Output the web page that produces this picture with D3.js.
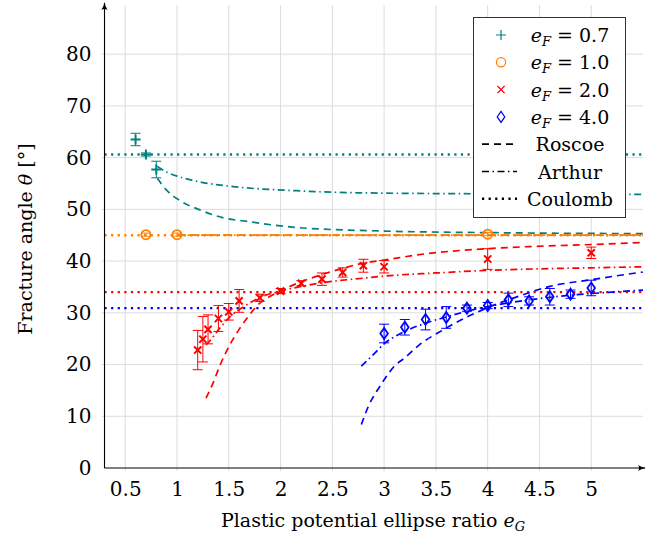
<!DOCTYPE html>
<html>
<head>
<meta charset="utf-8">
<title>Fracture angle</title>
<script src="https://d3js.org/d3.v7.min.js"></script>
<style>
  body { margin: 0; background: #fff; }
  svg text { font-family: "DejaVu Serif", serif; fill: #000; }
</style>
</head>
<body>
<svg width="653" height="534"></svg>
<script>
// ---- data ----
var xTicks = [0.5, 1, 1.5, 2, 2.5, 3, 3.5, 4, 4.5, 5];
var yTicks = [0, 10, 20, 30, 40, 50, 60, 70, 80];

var seriesNames = ["0.7", "1.0", "2.0", "4.0"];
var seriesColors = ["#008080", "#ff8000", "#ff0000", "#0000ff"];
var seriesMarkers = ["plus", "circle", "cross", "diamond"];

// measured points [eG, theta, error]
var pts07 = [[0.6, 63.5, 1.2], [0.7, 60.6, 0.3], [0.8, 57.7, 1.6]];
var pts10 = [[0.7, 45.1, 0.3], [1.0, 45.1, 0.3], [4.0, 45.2, 0.3]];
var pts20 = [[1.2, 22.8, 3.8], [1.25, 24.9, 4.4], [1.3, 26.8, 2.8], [1.4, 28.9, 2.5],
             [1.5, 30.2, 1.6], [1.6, 32.3, 2.2], [1.8, 32.9, 0.7], [2.0, 34.2, 0.5],
             [2.2, 35.7, 0.5], [2.4, 36.5, 1.2], [2.6, 37.8, 0.9], [2.8, 39.1, 1.25],
             [3.0, 38.9, 1.2], [4.0, 40.4, 2.0], [5.0, 41.6, 1.1]];
var pts40 = [[3.0, 26.0, 1.8], [3.2, 27.2, 1.5], [3.4, 28.7, 2.0], [3.6, 29.1, 2.1],
             [3.8, 30.9, 0.6], [4.0, 31.4, 0.6], [4.2, 32.5, 1.3], [4.4, 32.3, 0.8],
             [4.6, 33.1, 1.6], [4.8, 33.6, 0.8], [5.0, 34.8, 1.5]];

// Roscoe (dashed) curves [eG, theta]
var roscoe07 = [[0.81, 56.0], [0.9, 53.7], [1.02, 51.8], [1.22, 49.9], [1.44, 48.4], [1.7, 47.6],
                [2.15, 46.5], [3.0, 45.8], [4.0, 45.5], [5.5, 45.3]];
var roscoe10 = [[1.0, 45.0], [5.5, 45.0]];
var roscoe20 = [[1.28, 13.5], [1.35, 16.5], [1.41, 19.6], [1.51, 23.8], [1.6, 26.8], [1.67, 28.8],
                [1.78, 31.5], [1.9, 33.2], [2.0, 34.3], [2.2, 36.0], [2.4, 37.4], [2.6, 38.6],
                [2.8, 39.6], [3.0, 40.2], [3.4, 41.4], [4.0, 42.4], [4.4, 42.8], [5.0, 43.2], [5.5, 43.6]];
var roscoe40 = [[2.78, 8.4], [2.85, 12.0], [2.96, 15.8], [3.1, 19.7], [3.2, 21.3], [3.34, 23.8],
                [3.57, 26.7], [3.8, 29.2], [4.0, 31.0], [4.3, 33.2], [4.6, 35.1], [5.0, 36.4], [5.5, 37.9]];

// Arthur (dash-dot) curves
var arthur07 = [[0.81, 58.3], [0.9, 57.2], [1.02, 56.3], [1.22, 55.3], [1.54, 54.4], [2.15, 53.6],
                [2.75, 53.2], [4.0, 53.0], [5.5, 52.9]];
var arthur10 = [[1.0, 45.0], [5.5, 45.0]];
var arthur20 = [[1.28, 23.8], [1.31, 24.4], [1.4, 26.7], [1.51, 29.2], [1.67, 31.5], [1.83, 33.2],
                [2.0, 34.2], [2.2, 35.1], [2.4, 35.8], [2.8, 36.7], [3.0, 37.1], [3.5, 37.7],
                [4.0, 38.2], [4.5, 38.5], [5.0, 38.7], [5.5, 38.9]];
var arthur40 = [[2.78, 19.7], [2.9, 22.0], [3.0, 24.0], [3.2, 26.4], [3.4, 28.0], [3.6, 29.2],
                [3.8, 30.3], [4.0, 31.2], [4.4, 32.5], [4.8, 33.4], [5.2, 34.0], [5.5, 34.4]];

// Coulomb (dotted) constant angles
var coulomb = [60.6, 45.0, 34.0, 30.9];

var points = [pts07, pts10, pts20, pts40];
var roscoe = [roscoe07, roscoe10, roscoe20, roscoe40];
var arthur = [arthur07, arthur10, arthur20, arthur40];

var lineNames = ["Roscoe", "Arthur", "Coulomb"];
var dashes = ["7,5", "7,3.5,1.5,3.5", "2.2,4.4"];

// ---- drawing ----
var svg = d3.select("svg");
var xMin = 0.3, xMax = 5.5, yMax = 89.5;
var x = d3.scaleLinear().domain([xMin, xMax]).range([104.5, 643]);
var y = d3.scaleLinear().domain([0, yMax]).range([468, 5]);

svg.append("defs").append("clipPath").attr("id", "clip")
  .append("rect").attr("x", x(xMin)).attr("y", y(yMax))
  .attr("width", x(xMax) - x(xMin)).attr("height", y(0) - y(yMax));

// grid
var grid = svg.append("g");
grid.selectAll(".gx").data(xTicks).enter().append("line")
  .attr("x1", function(d) { return x(d); }).attr("x2", function(d) { return x(d); })
  .attr("y1", y(0) + 3).attr("y2", y(yMax))
  .attr("stroke", "#dcdcdc").attr("stroke-width", 1);
grid.selectAll(".gy").data(yTicks.slice(1)).enter().append("line")
  .attr("x1", x(xMin) - 3).attr("x2", x(xMax))
  .attr("y1", function(d) { return y(d); }).attr("y2", function(d) { return y(d); })
  .attr("stroke", "#dcdcdc").attr("stroke-width", 1);

// tick labels via axes (no tick lines)
var xAxis = svg.append("g").attr("transform", "translate(0," + y(0) + ")")
  .call(d3.axisBottom(x).tickValues(xTicks).tickSize(0).tickPadding(14)
    .tickFormat(function(d) { return String(d); }));
xAxis.select(".domain").remove();
xAxis.attr("font-family", null).attr("font-size", 20);
xAxis.selectAll("text").attr("font-size", 20);

var yAxis = svg.append("g").attr("transform", "translate(" + x(xMin) + ",0)")
  .call(d3.axisLeft(y).tickValues(yTicks).tickSize(0).tickPadding(13));
yAxis.select(".domain").remove();
yAxis.attr("font-family", null).attr("font-size", 20);
yAxis.selectAll("text").attr("font-size", 20);

var line = d3.line().x(function(d) { return x(d[0]); }).y(function(d) { return y(d[1]); })
  .curve(d3.curveMonotoneX);

var plot = svg.append("g").attr("clip-path", "url(#clip)");

// Coulomb lines
coulomb.forEach(function(c, i) {
  plot.append("path")
    .attr("d", line([[xMin, c], [xMax, c]]))
    .attr("fill", "none").attr("stroke", seriesColors[i])
    .attr("stroke-width", 2.4).attr("stroke-dasharray", dashes[2]);
});
// Roscoe and Arthur
[roscoe, arthur].forEach(function(set, k) {
  set.forEach(function(data, i) {
    plot.append("path")
      .attr("d", line(data))
      .attr("fill", "none").attr("stroke", seriesColors[i])
      .attr("stroke-width", 1.7).attr("stroke-dasharray", dashes[k]);
  });
});

function drawMarker(g, type, color, cx, cy) {
  if (type === "plus") {
    g.append("path").attr("d", "M" + (cx - 5) + "," + cy + "H" + (cx + 5) + "M" + cx + "," + (cy - 5) + "V" + (cy + 5))
      .attr("stroke", color).attr("stroke-width", 2).attr("fill", "none");
  } else if (type === "circle") {
    g.append("circle").attr("cx", cx).attr("cy", cy).attr("r", 4.6)
      .attr("stroke", color).attr("stroke-width", 1.8).attr("fill", "none");
  } else if (type === "cross") {
    g.append("path").attr("d", "M" + (cx - 3.6) + "," + (cy - 3.6) + "L" + (cx + 3.6) + "," + (cy + 3.6) +
      "M" + (cx - 3.6) + "," + (cy + 3.6) + "L" + (cx + 3.6) + "," + (cy - 3.6))
      .attr("stroke", color).attr("stroke-width", 2).attr("fill", "none");
  } else {
    g.append("path").attr("d", "M" + cx + "," + (cy - 5.5) + "L" + (cx + 3.8) + "," + cy + "L" + cx + "," + (cy + 5.5) +
      "L" + (cx - 3.8) + "," + cy + "Z")
      .attr("stroke", color).attr("stroke-width", 1.8).attr("fill", "none");
  }
}

// error bars and markers
points.forEach(function(data, i) {
  var g = plot.append("g");
  data.forEach(function(p) {
    var cx = x(p[0]), top = y(p[1] + p[2]), bot = y(p[1] - p[2]);
    g.append("path")
      .attr("d", "M" + cx + "," + top + "V" + bot + "M" + (cx - 5) + "," + top + "H" + (cx + 5) +
        "M" + (cx - 5) + "," + bot + "H" + (cx + 5))
      .attr("stroke", seriesColors[i]).attr("stroke-width", 1).attr("fill", "none");
    drawMarker(g, seriesMarkers[i], seriesColors[i], cx, y(p[1]));
  });
});

// axis lines with arrows
svg.append("defs").append("marker").attr("id", "arrow")
  .attr("viewBox", "0 0 10 10").attr("refX", 9).attr("refY", 5)
  .attr("markerWidth", 7).attr("markerHeight", 7).attr("orient", "auto")
  .append("path").attr("d", "M0,1 Q5,4.2 10,5 Q5,5.8 0,9 Q2.5,5 0,1Z").attr("fill", "#000");
svg.append("line").attr("x1", x(xMin)).attr("x2", x(xMax) + 2).attr("y1", y(0)).attr("y2", y(0))
  .attr("stroke", "#000").attr("stroke-width", 1.1).attr("marker-end", "url(#arrow)");
svg.append("line").attr("x1", x(xMin)).attr("x2", x(xMin)).attr("y1", y(0)).attr("y2", y(yMax) - 2)
  .attr("stroke", "#000").attr("stroke-width", 1.1).attr("marker-end", "url(#arrow)");

// axis titles
var xt = svg.append("text").attr("x", 373).attr("y", 527).attr("text-anchor", "middle").attr("font-size", 19);
xt.append("tspan").text("Plastic potential ellipse ratio ");
xt.append("tspan").attr("font-style", "italic").text("e");
xt.append("tspan").attr("font-style", "italic").attr("font-size", 13).attr("dy", 4).text("G");

var yt = svg.append("text").attr("transform", "translate(32,239) rotate(-90)")
  .attr("text-anchor", "middle").attr("font-size", 19);
yt.append("tspan").text("Fracture angle ");
yt.append("tspan").attr("font-style", "italic").text("θ");
yt.append("tspan").text(" [°]");

// legend
var lg = svg.append("g");
lg.append("rect").attr("x", 473.5).attr("y", 17.5).attr("width", 152).attr("height", 200)
  .attr("fill", "#fff").attr("stroke", "#333").attr("stroke-width", 1);
var rowY = 35, rowH = 27.3, textX = 570;
seriesNames.forEach(function(name, i) {
  var cy = rowY + i * rowH;
  var mg = lg.append("g");
  drawMarker(mg, seriesMarkers[i], seriesColors[i], 501, cy);
  mg.selectAll("path,circle").attr("stroke-width", 1.2);
  var t = lg.append("text").attr("x", textX).attr("y", cy + 7).attr("text-anchor", "middle").attr("font-size", 19);
  t.append("tspan").attr("font-style", "italic").text("e");
  t.append("tspan").attr("font-style", "italic").attr("font-size", 13).attr("dy", 4).text("F");
  t.append("tspan").attr("dy", -4).text(" = " + name);
});
lineNames.forEach(function(name, k) {
  var cy = rowY + (k + 4) * rowH;
  lg.append("line").attr("x1", 482).attr("x2", 517).attr("y1", cy).attr("y2", cy)
    .attr("stroke", "#000").attr("stroke-width", k === 2 ? 2.4 : 1.7)
    .attr("stroke-dasharray", dashes[k]);
  lg.append("text").attr("x", textX).attr("y", cy + 7).attr("text-anchor", "middle")
    .attr("font-size", 19).text(name);
});
</script>
</body>
</html>
